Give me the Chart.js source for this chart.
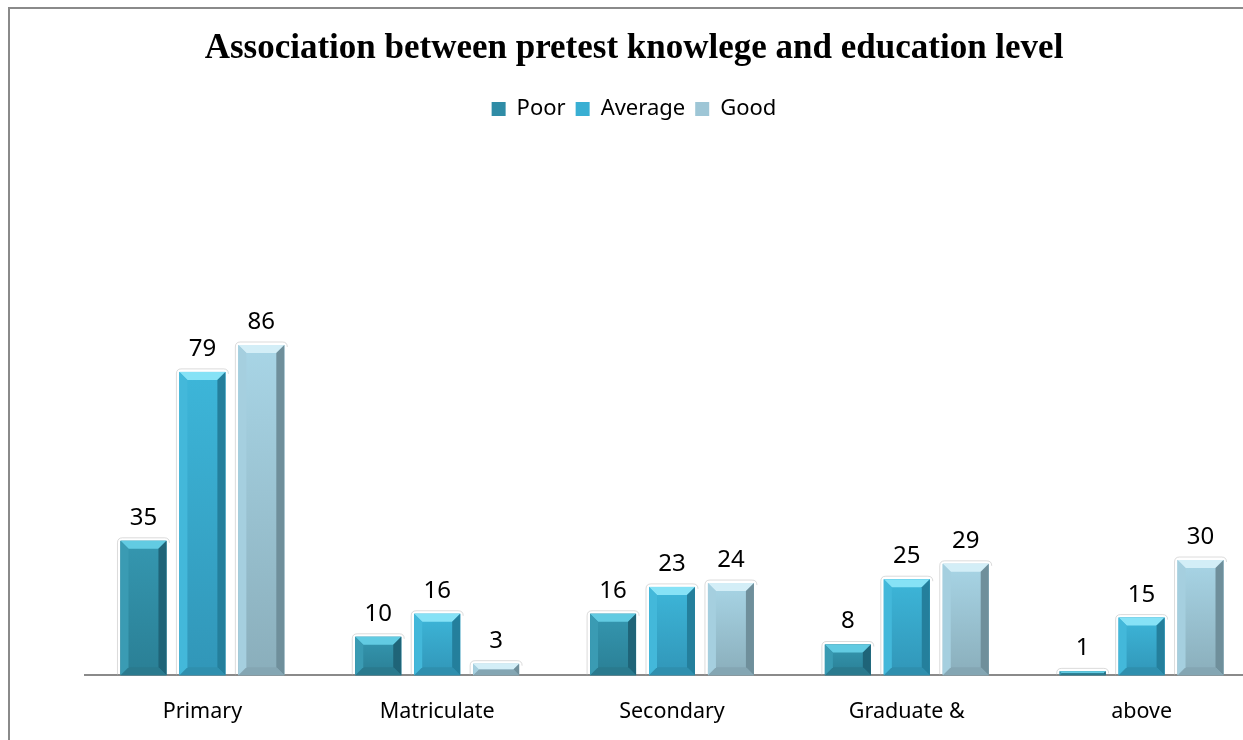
<!DOCTYPE html>
<html>
<head>
<meta charset="utf-8">
<script src="https://cdn.jsdelivr.net/npm/chart.js@4.4.0/dist/chart.umd.min.js"></script>
<style>
  html, body { margin: 0; padding: 0; background: #fff; overflow: hidden; width: 1243px; height: 740px; }
  #frame { position: absolute; left: 8px; top: 7px; width: 1400px; height: 900px; border: 2px solid #8a8a8a; box-sizing: border-box; }
  #chart { position: absolute; left: 9px; top: 0; }
</style>
</head>
<body>
<div id="frame"></div>
<canvas id="chart" width="1250" height="760"></canvas>
<script>
const categories = ['Primary', 'Matriculate', 'Secondary', 'Graduate &', 'above'];
const poor = [35, 10, 16, 8, 1];
const average = [79, 16, 23, 25, 15];
const good = [86, 3, 24, 29, 30];

// face gradient, top bevel, right side, bottom, left side
const looks = [
  { face: ['#3597b0', '#2a7f95'], top: '#62cbe2', right: '#1f6478', bottom: '#2a7a8e', left: '#3a9bb3' },
  { face: ['#3db6d9', '#3196b8'], top: '#86e2f6', right: '#247f9c', bottom: '#2f8fae', left: '#43b8da' },
  { face: ['#a8d5e6', '#8aaebb'], top: '#d3eef7', right: '#6f8f9b', bottom: '#84a6b3', left: '#a5cfdf' }
];

// draws the beveled look over each bar
const bevel = {
  id: 'bevel',
  afterDatasetsDraw(chart) {
    const ctx = chart.ctx;
    chart.data.datasets.forEach((ds, i) => {
      const lk = looks[i];
      chart.getDatasetMeta(i).data.forEach(bar => {
        const l = bar.x - bar.width / 2, r = bar.x + bar.width / 2;
        const t = bar.y, b = bar.base;
        const h = b - t;
        const s = Math.min(8, h / 2);
        ctx.save();
        // soft outline round the top
        ctx.strokeStyle = 'rgba(175,175,175,0.45)';
        ctx.lineWidth = 1;
        ctx.beginPath();
        ctx.moveTo(l - 3, b);
        ctx.lineTo(l - 3, t + 2);
        ctx.quadraticCurveTo(l - 3, t - 3, l + 2, t - 3);
        ctx.lineTo(r - 2, t - 3);
        ctx.quadraticCurveTo(r + 3, t - 3, r + 3, t + 2);
        ctx.stroke();
        const g = ctx.createLinearGradient(0, t, 0, b);
        g.addColorStop(0, lk.face[0]);
        g.addColorStop(1, lk.face[1]);
        ctx.fillStyle = g;
        ctx.fillRect(l, t, r - l, h);
        const poly = (pts, c) => {
          ctx.beginPath();
          ctx.moveTo(pts[0][0], pts[0][1]);
          pts.slice(1).forEach(p => ctx.lineTo(p[0], p[1]));
          ctx.closePath();
          ctx.fillStyle = c;
          ctx.fill();
        };
        poly([[l, t], [r, t], [r - s, t + s], [l + s, t + s]], lk.top);
        poly([[r, t], [r, b], [r - s, b - s], [r - s, t + s]], lk.right);
        poly([[l, b], [r, b], [r - s, b - s], [l + s, b - s]], lk.bottom);
        poly([[l, t], [l + s, t + s], [l + s, b - s], [l, b]], lk.left);
        ctx.restore();
      });
    });
  }
};

// value labels above the bars
const valueLabels = {
  id: 'valueLabels',
  afterDatasetsDraw(chart) {
    const ctx = chart.ctx;
    ctx.save();
    ctx.font = '24px "Noto Sans"';
    ctx.fillStyle = '#000';
    ctx.textAlign = 'center';
    ctx.textBaseline = 'alphabetic';
    chart.data.datasets.forEach((ds, i) => {
      chart.getDatasetMeta(i).data.forEach((bar, j) => {
        ctx.fillText(String(ds.data[j]), bar.x, bar.y - 16);
      });
    });
    ctx.restore();
  }
};

new Chart(document.getElementById('chart'), {
  type: 'bar',
  data: {
    labels: categories,
    datasets: [
      { label: 'Poor', data: poor, backgroundColor: '#2f8ca6' },
      { label: 'Average', data: average, backgroundColor: '#39afd3' },
      { label: 'Good', data: good, backgroundColor: '#9ec6d6' }
    ]
  },
  options: {
    responsive: false,
    animation: false,
    categoryPercentage: 0.753,
    barPercentage: 0.78,
    layout: { padding: { left: 0, right: 0, bottom: 11, top: 0 } },
    plugins: {
      title: {
        display: true,
        text: 'Association between pretest knowlege and education level',
        color: '#000',
        font: { family: '"Liberation Serif", "Times New Roman", serif', size: 35, weight: 'bold' },
        padding: { top: 28, bottom: 18 }
      },
      legend: {
        display: true,
        labels: {
          color: '#000',
          font: { family: '"Noto Sans"', size: 22 },
          boxWidth: 14,
          boxHeight: 14,
          padding: 10
        }
      },
      tooltip: { enabled: false }
    },
    scales: {
      x: {
        grid: { display: false, drawTicks: false },
        border: { display: true, color: '#8a8a8a', width: 2 },
        ticks: { color: '#000', font: { family: '"Noto Sans"', size: 21.5 }, padding: 24 }
      },
      y: {
        display: true,
        min: 0,
        max: 142,
        grid: { display: false },
        border: { display: false },
        ticks: { display: false },
        afterFit(axis) { axis.width = 76; }
      }
    }
  },
  plugins: [bevel, valueLabels]
});
</script>
</body>
</html>
